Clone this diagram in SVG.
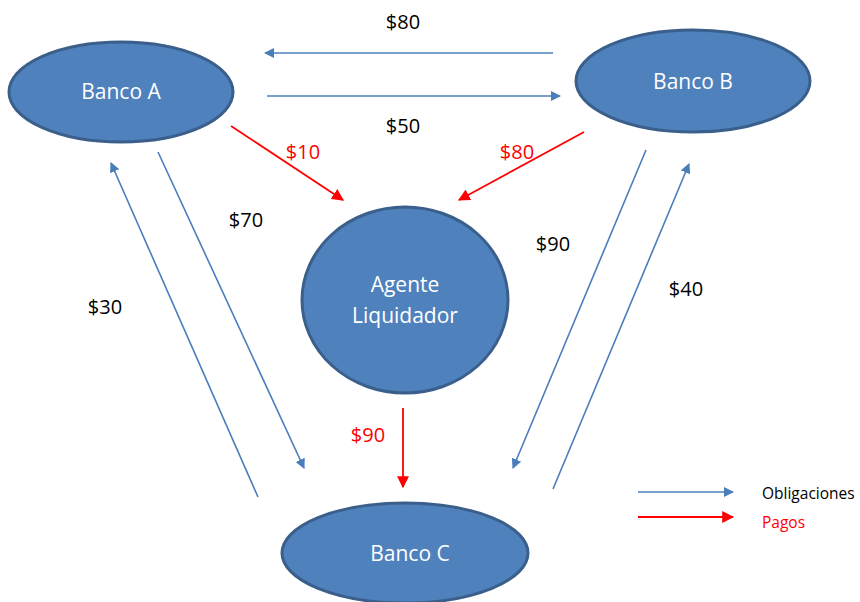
<svg xmlns="http://www.w3.org/2000/svg" width="860" height="602" viewBox="0 0 860 602">
<style>
.node{fill:#4F81BD;stroke:#3A5F8B;stroke-width:3}
.nt{font-family:"Open Sans","Liberation Sans",sans-serif;font-size:21px;fill:#fff;text-anchor:middle}
.lb{font-family:"Open Sans","Liberation Sans",sans-serif;font-size:20px;fill:#000;text-anchor:middle}
.red{fill:#FF0000}
.ob{stroke:#4A7EBB;stroke-width:1.6;fill:none;marker-end:url(#ab)}
.pg{stroke:#FF0000;stroke-width:1.8;fill:none;marker-end:url(#ar)}
.lg{font-family:"Open Sans","Liberation Sans",sans-serif;font-size:15.5px}
</style>
<defs>
<marker id="ab" viewBox="0 0 10 10" refX="9" refY="5" markerWidth="10" markerHeight="10" orient="auto" markerUnits="userSpaceOnUse"><path d="M0,0 L10,5 L0,10 z" fill="#4A7EBB"/></marker>
<marker id="ar" viewBox="0 0 10 10" refX="9" refY="5" markerWidth="12" markerHeight="12" orient="auto" markerUnits="userSpaceOnUse"><path d="M0,0 L10,5 L0,10 z" fill="#FF0000"/></marker>
</defs>
<g id="connectors">
<line class="ob" x1="553" y1="53" x2="265" y2="53"/>
<line class="ob" x1="267" y1="96" x2="560" y2="96"/>
<line class="pg" x1="231" y1="126" x2="343" y2="200"/>
<line class="pg" x1="584" y1="132" x2="459" y2="200"/>
<line class="ob" x1="158" y1="152" x2="304" y2="468"/>
<line class="ob" x1="258" y1="497" x2="111" y2="163"/>
<line class="ob" x1="646" y1="150" x2="513" y2="468"/>
<line class="ob" x1="553" y1="489" x2="689" y2="164"/>
<line class="pg" x1="403" y1="408" x2="403" y2="487"/>
<line class="ob" x1="638" y1="492" x2="733" y2="492"/>
<line class="pg" x1="638" y1="517" x2="733" y2="517"/>
</g>
<g id="labels">
<text class="lb" x="403" y="29">$80</text>
<text class="lb" x="403" y="133">$50</text>
<text class="lb red" x="303" y="159">$10</text>
<text class="lb red" x="517" y="159">$80</text>
<text class="lb" x="246" y="227">$70</text>
<text class="lb" x="105" y="314">$30</text>
<text class="lb" x="553" y="251">$90</text>
<text class="lb" x="686" y="296">$40</text>
<text class="lb red" x="368" y="442">$90</text>
</g>
<g id="legend">
<text class="lg" x="762" y="499">Obligaciones</text>
<text class="lg red" x="762" y="528">Pagos</text>
</g>
<g id="bancoA"><ellipse class="node" cx="121" cy="92" rx="112" ry="50"/><text class="nt" x="121" y="99">Banco A</text></g>
<g id="bancoB"><ellipse class="node" cx="693" cy="81" rx="117" ry="51"/><text class="nt" x="693" y="89">Banco B</text></g>
<g id="agente"><ellipse class="node" cx="405" cy="300" rx="103" ry="93"/><text class="nt" x="405" y="292">Agente</text><text class="nt" x="405" y="323">Liquidador</text></g>
<g id="bancoC"><ellipse class="node" cx="405" cy="553" rx="123" ry="50"/><text class="nt" x="410" y="561">Banco C</text></g>
</svg>
